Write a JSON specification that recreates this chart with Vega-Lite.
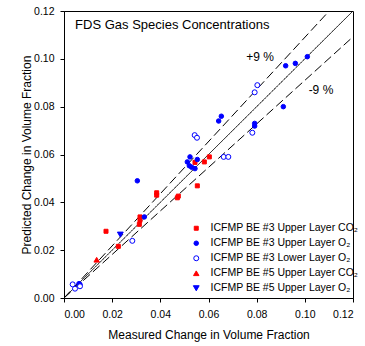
{
  "$schema": "https://vega.github.io/schema/vega-lite/v6.json",
  "width": 289,
  "height": 287,
  "autosize": {"type": "none"},
  "padding": {"left": 64, "top": 11, "right": 12, "bottom": 48},
  "background": "white",
  "config": {
    "font": "Liberation Sans",
    "view": {"stroke": "black", "strokeWidth": 1},
    "axis": {
      "grid": false,
      "domainColor": "black",
      "tickColor": "black",
      "tickSize": 4,
      "labelColor": "black",
      "labelFontSize": 10.5,
      "labelFont": "Liberation Sans",
      "titleFont": "Liberation Sans",
      "titleFontSize": 12,
      "titleFontWeight": "normal",
      "titleColor": "black"
    },
    "legend": {
      "labelFont": "Liberation Sans",
      "labelFontSize": 10.5,
      "labelColor": "black"
    }
  },
  "datasets": {
    "pts": [
      {"series": "ICFMP BE #3 Upper Layer CO₂", "measured": 0.01744, "predicted": 0.0279},
      {"series": "ICFMP BE #3 Upper Layer CO₂", "measured": 0.02256, "predicted": 0.0216},
      {"series": "ICFMP BE #3 Upper Layer CO₂", "measured": 0.03156, "predicted": 0.0339},
      {"series": "ICFMP BE #3 Upper Layer CO₂", "measured": 0.03156, "predicted": 0.0325},
      {"series": "ICFMP BE #3 Upper Layer CO₂", "measured": 0.03128, "predicted": 0.0308},
      {"series": "ICFMP BE #3 Upper Layer CO₂", "measured": 0.03848, "predicted": 0.0440},
      {"series": "ICFMP BE #3 Upper Layer CO₂", "measured": 0.03848, "predicted": 0.0430},
      {"series": "ICFMP BE #3 Upper Layer CO₂", "measured": 0.04747, "predicted": 0.0426},
      {"series": "ICFMP BE #3 Upper Layer CO₂", "measured": 0.04706, "predicted": 0.0419},
      {"series": "ICFMP BE #3 Upper Layer CO₂", "measured": 0.05536, "predicted": 0.0469},
      {"series": "ICFMP BE #3 Upper Layer CO₂", "measured": 0.05439, "predicted": 0.0567},
      {"series": "ICFMP BE #3 Upper Layer CO₂", "measured": 0.05827, "predicted": 0.0569},
      {"series": "ICFMP BE #3 Upper Layer CO₂", "measured": 0.06035, "predicted": 0.0590},
      {"series": "ICFMP BE #3 Upper Layer O₂", "measured": 0.03045, "predicted": 0.0490},
      {"series": "ICFMP BE #3 Upper Layer O₂", "measured": 0.03336, "predicted": 0.0339},
      {"series": "ICFMP BE #3 Upper Layer O₂", "measured": 0.00623, "predicted": 0.0060},
      {"series": "ICFMP BE #3 Upper Layer O₂", "measured": 0.00664, "predicted": 0.0056},
      {"series": "ICFMP BE #3 Upper Layer O₂", "measured": 0.05232, "predicted": 0.0590},
      {"series": "ICFMP BE #3 Upper Layer O₂", "measured": 0.05121, "predicted": 0.0569},
      {"series": "ICFMP BE #3 Upper Layer O₂", "measured": 0.05204, "predicted": 0.0553},
      {"series": "ICFMP BE #3 Upper Layer O₂", "measured": 0.05439, "predicted": 0.0541},
      {"series": "ICFMP BE #3 Upper Layer O₂", "measured": 0.05536, "predicted": 0.0579},
      {"series": "ICFMP BE #3 Upper Layer O₂", "measured": 0.05300, "predicted": 0.0547},
      {"series": "ICFMP BE #3 Upper Layer O₂", "measured": 0.06422, "predicted": 0.0740},
      {"series": "ICFMP BE #3 Upper Layer O₂", "measured": 0.06533, "predicted": 0.0760},
      {"series": "ICFMP BE #3 Upper Layer O₂", "measured": 0.07917, "predicted": 0.0730},
      {"series": "ICFMP BE #3 Upper Layer O₂", "measured": 0.07917, "predicted": 0.0719},
      {"series": "ICFMP BE #3 Upper Layer O₂", "measured": 0.09107, "predicted": 0.0800},
      {"series": "ICFMP BE #3 Upper Layer O₂", "measured": 0.09204, "predicted": 0.0971},
      {"series": "ICFMP BE #3 Upper Layer O₂", "measured": 0.09606, "predicted": 0.0981},
      {"series": "ICFMP BE #3 Upper Layer O₂", "measured": 0.10104, "predicted": 0.1009},
      {"series": "ICFMP BE #3 Lower Layer O₂", "measured": 0.0036, "predicted": 0.0057},
      {"series": "ICFMP BE #3 Lower Layer O₂", "measured": 0.00457, "predicted": 0.0039},
      {"series": "ICFMP BE #3 Lower Layer O₂", "measured": 0.00664, "predicted": 0.0049},
      {"series": "ICFMP BE #3 Lower Layer O₂", "measured": 0.02837, "predicted": 0.0239},
      {"series": "ICFMP BE #3 Lower Layer O₂", "measured": 0.05426, "predicted": 0.0681},
      {"series": "ICFMP BE #3 Lower Layer O₂", "measured": 0.05522, "predicted": 0.0670},
      {"series": "ICFMP BE #3 Lower Layer O₂", "measured": 0.0663, "predicted": 0.0590},
      {"series": "ICFMP BE #3 Lower Layer O₂", "measured": 0.06823, "predicted": 0.0590},
      {"series": "ICFMP BE #3 Lower Layer O₂", "measured": 0.0782, "predicted": 0.0691},
      {"series": "ICFMP BE #3 Lower Layer O₂", "measured": 0.07917, "predicted": 0.0860},
      {"series": "ICFMP BE #3 Lower Layer O₂", "measured": 0.08028, "predicted": 0.0890},
      {"series": "ICFMP BE #5 Upper Layer CO₂", "measured": 0.01356, "predicted": 0.0160},
      {"series": "ICFMP BE #5 Upper Layer O₂", "measured": 0.02339, "predicted": 0.0265}
    ],
    "lines": [
      {"line": "exact", "measured": 0, "predicted": 0},
      {"line": "exact", "measured": 0.12, "predicted": 0.12},
      {"line": "upper", "measured": 0, "predicted": 0},
      {"line": "upper", "measured": 0.1101, "predicted": 0.12},
      {"line": "lower", "measured": 0, "predicted": 0},
      {"line": "lower", "measured": 0.12, "predicted": 0.1092}
    ],
    "labels": [
      {"text": "FDS Gas Species Concentrations", "measured": 0.0046, "predicted": 0.1141, "kind": "title"},
      {"text": "+9 %", "measured": 0.0814, "predicted": 0.1008, "kind": "band"},
      {"text": "-9 %", "measured": 0.1067, "predicted": 0.0870, "kind": "band"}
    ]
  },
  "layer": [
    {
      "data": {"name": "lines"},
      "mark": {"type": "line", "color": "black", "strokeWidth": 1, "clip": true},
      "encoding": {
        "x": {"field": "measured", "type": "quantitative", "scale": {"domain": [0, 0.12]},
              "axis": {"values": [0, 0.02, 0.04, 0.06, 0.08, 0.1, 0.12], "format": ".2f", "title": "Measured Change in Volume Fraction", "labelPadding": 7, "titlePadding": 10}},
        "y": {"field": "predicted", "type": "quantitative", "scale": {"domain": [0, 0.12]},
              "axis": {"values": [0, 0.02, 0.04, 0.06, 0.08, 0.1, 0.12], "format": ".2f", "title": "Predicted Change in Volume Fraction", "labelPadding": 6, "titlePadding": 0}},
        "detail": {"field": "line", "type": "nominal"},
        "strokeDash": {"field": "line", "type": "nominal", "legend": null,
                       "scale": {"domain": ["exact", "upper", "lower"], "range": [[1, 0], [9, 4], [9, 4]]}}
      }
    },
    {
      "data": {"name": "pts"},
      "mark": {"type": "point", "filled": true, "strokeWidth": 1, "opacity": 1},
      "encoding": {
        "x": {"field": "measured", "type": "quantitative"},
        "y": {"field": "predicted", "type": "quantitative"},
        "shape": {"field": "series", "type": "nominal", "title": null,
                  "scale": {"domain": ["ICFMP BE #3 Upper Layer CO₂", "ICFMP BE #3 Upper Layer O₂", "ICFMP BE #3 Lower Layer O₂", "ICFMP BE #5 Upper Layer CO₂", "ICFMP BE #5 Upper Layer O₂"],
                            "range": ["square", "circle", "circle", "triangle-up", "triangle-down"]},
                  "legend": {"orient": "none", "legendX": 127, "legendY": 212, "padding": 0, "rowPadding": 4, "labelOffset": 9, "symbolStrokeWidth": 1}},
        "fill": {"field": "series", "type": "nominal", "title": null,
                 "scale": {"domain": ["ICFMP BE #3 Upper Layer CO₂", "ICFMP BE #3 Upper Layer O₂", "ICFMP BE #3 Lower Layer O₂", "ICFMP BE #5 Upper Layer CO₂", "ICFMP BE #5 Upper Layer O₂"],
                           "range": ["#ff0000", "#0000ff", "#ffffff", "#ff0000", "#0000ff"]}},
        "stroke": {"field": "series", "type": "nominal", "title": null,
                   "scale": {"domain": ["ICFMP BE #3 Upper Layer CO₂", "ICFMP BE #3 Upper Layer O₂", "ICFMP BE #3 Lower Layer O₂", "ICFMP BE #5 Upper Layer CO₂", "ICFMP BE #5 Upper Layer O₂"],
                             "range": ["#ff0000", "#0000ff", "#0000ff", "#ff0000", "#0000ff"]}},
        "size": {"field": "series", "type": "nominal", "title": null,
                 "scale": {"domain": ["ICFMP BE #3 Upper Layer CO₂", "ICFMP BE #3 Upper Layer O₂", "ICFMP BE #3 Lower Layer O₂", "ICFMP BE #5 Upper Layer CO₂", "ICFMP BE #5 Upper Layer O₂"],
                           "range": [16, 34, 26, 34, 34]}}
      }
    },
    {
      "data": {"name": "labels"},
      "transform": [{"filter": "datum.kind == 'title'"}],
      "mark": {"type": "text", "align": "left", "baseline": "middle", "fontSize": 13, "color": "black"},
      "encoding": {
        "x": {"field": "measured", "type": "quantitative"},
        "y": {"field": "predicted", "type": "quantitative"},
        "text": {"field": "text"}
      }
    },
    {
      "data": {"name": "labels"},
      "transform": [{"filter": "datum.kind == 'band'"}],
      "mark": {"type": "text", "align": "center", "baseline": "middle", "fontSize": 12, "color": "black"},
      "encoding": {
        "x": {"field": "measured", "type": "quantitative"},
        "y": {"field": "predicted", "type": "quantitative"},
        "text": {"field": "text"}
      }
    }
  ]
}
